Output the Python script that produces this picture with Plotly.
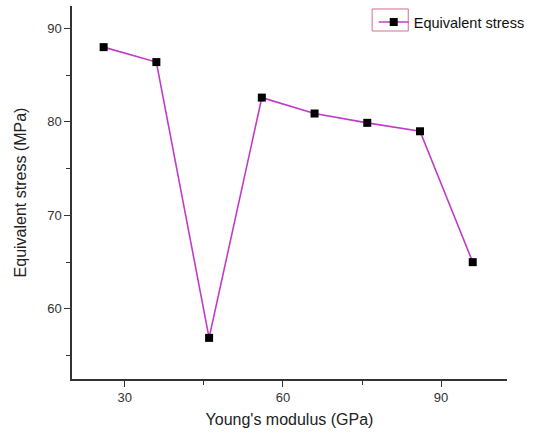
import plotly.graph_objects as go

modulus = [26, 36, 46, 56, 66, 76, 86, 96]
stress = [88.0, 86.4, 56.9, 82.6, 80.9, 79.9, 79.0, 65.0]
series_name = "Equivalent stress"
x_title = "Young's modulus (GPa)"
y_title = "Equivalent stress (MPa)"

fig = go.Figure()
fig.add_trace(go.Scatter(
    x=modulus, y=stress, name=series_name, mode="lines+markers",
    line=dict(color="#C03CC8", width=1.6),
    marker=dict(symbol="square", size=8, color="black"),
))

font_family = "Liberation Sans, Arial, sans-serif"
axis_common = dict(
    showline=True, linecolor="#333333", linewidth=1.5, mirror=False,
    ticks="outside", ticklen=6, tickwidth=1.3, tickcolor="#333333",
    showgrid=False, zeroline=False,
    tickfont=dict(family=font_family, size=13, color="#333333"),
)
fig.update_xaxes(
    range=[20, 102.5], tick0=30, dtick=30,
    minor=dict(dtick=15, ticks="outside", ticklen=4, tickcolor="#333333", tickwidth=1.3),
    title=dict(text=x_title, font=dict(family=font_family, size=16, color="#222222"), standoff=9),
    **axis_common,
)
fig.update_yaxes(
    range=[52.5, 92.4], tick0=60, dtick=10,
    minor=dict(dtick=5, ticks="outside", ticklen=4, tickcolor="#333333", tickwidth=1.3),
    title=dict(text=y_title, font=dict(family=font_family, size=16, color="#222222"), standoff=17),
    **axis_common,
)
fig.update_layout(
    width=535, height=441,
    margin=dict(l=72, r=27, t=6, b=62),
    paper_bgcolor="white", plot_bgcolor="white",
    showlegend=True,
    legend=dict(x=0.692, y=1.0, xanchor="left", yanchor="top",
                bgcolor="rgba(0,0,0,0)",
                font=dict(family=font_family, size=14.5, color="#111111")),
)
fig.add_shape(type="rect", xref="paper", yref="paper",
              x0=0.690, x1=0.773, y0=0.933, y1=0.992,
              line=dict(color="#D07090", width=1))
fig.write_html("out.html")
